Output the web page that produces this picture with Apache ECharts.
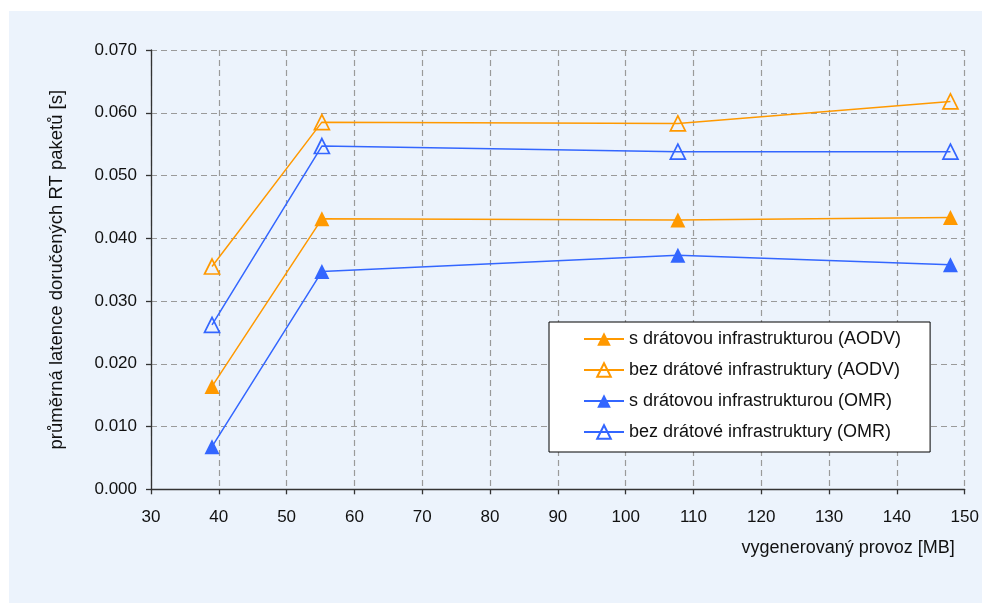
<!DOCTYPE html>
<html>
<head>
<meta charset="utf-8">
<script src="https://cdn.jsdelivr.net/npm/echarts@6/dist/echarts.min.js"></script>
<style>
  html, body { margin: 0; padding: 0; background: #ffffff; }
  #chart { width: 982px; height: 603px; }
</style>
</head>
<body>
<div id="chart"></div>
<script>
// Generated traffic [MB] for each measured scenario
const trafficMB = [39.0, 55.2, 107.7, 147.9];

// Mean latency of delivered RT packets [s]
const aodvWired   = [0.0164, 0.0431, 0.0429, 0.0433];
const aodvNoWired = [0.0355, 0.0585, 0.0583, 0.0618];
const omrWired    = [0.0068, 0.0347, 0.0373, 0.0358];
const omrNoWired  = [0.0262, 0.0547, 0.0538, 0.0538];

const seriesNames = [
  's drátovou infrastrukturou (AODV)',
  'bez drátové infrastruktury (AODV)',
  's drátovou infrastrukturou (OMR)',
  'bez drátové infrastruktury (OMR)'
];

const xTicks = { min: 30, max: 150, step: 10 };
const yTicks = { min: 0, max: 0.07, step: 0.01 };

const ORANGE = '#FF9900';
const BLUE = '#3366FF';
const PANEL = '#ECF3FC';
const FONT = '"Liberation Sans", Arial, sans-serif';

function pairs(ys) {
  return trafficMB.map((x, i) => [x, ys[i]]);
}

function lineSeries(name, ys, color, hollow) {
  return {
    name: name,
    type: 'line',
    data: pairs(ys),
    symbol: 'triangle',
    symbolSize: [15, 15],
    lineStyle: { color: color, width: 1.5 },
    itemStyle: hollow
      ? { color: 'rgba(0,0,0,0)', borderColor: color, borderWidth: 1.7 }
      : { color: color, borderColor: color, borderWidth: 0 },
    emphasis: { disabled: true },
    z: 3
  };
}

const chart = echarts.init(document.getElementById('chart'), null, { renderer: 'canvas' });

chart.setOption({
  animation: false,
  textStyle: { fontFamily: FONT },
  graphic: [{
    type: 'rect',
    shape: { x: 9, y: 11, width: 973, height: 592 },
    style: { fill: PANEL },
    z: -10,
    silent: true
  }],
  grid: { left: 151, right: 17.3, top: 50, bottom: 113.7, containLabel: false },
  legend: {
    orient: 'vertical',
    left: 549,
    top: 322,
    padding: [8, 29, 11, 34],
    itemWidth: 40,
    itemHeight: 17,
    itemGap: 13,
    backgroundColor: '#ffffff',
    borderColor: '#000000',
    borderWidth: 1,
    textStyle: { fontFamily: FONT, fontSize: 18, color: '#111', lineHeight: 18 },
    data: seriesNames
  },
  xAxis: {
    type: 'value',
    min: xTicks.min,
    max: xTicks.max,
    interval: xTicks.step,
    name: 'vygenerovaný provoz [MB]',
    nameLocation: 'end',
    nameGap: -10,
    nameTextStyle: {
      fontFamily: FONT, fontSize: 18, color: '#111',
      align: 'right', verticalAlign: 'top', padding: [50, 0, 0, 0]
    },
    axisLine: { show: true, lineStyle: { color: '#333', width: 1.3 } },
    axisTick: { show: true, length: 5, lineStyle: { color: '#333', width: 1.3 } },
    axisLabel: { fontFamily: FONT, fontSize: 17, color: '#111', margin: 20 },
    splitLine: { show: true, lineStyle: { color: '#9a9a9a', width: 1.2, type: [6, 4] } }
  },
  yAxis: {
    type: 'value',
    min: yTicks.min,
    max: yTicks.max,
    interval: yTicks.step,
    name: 'průměrná latence doručených RT paketů [s]',
    nameLocation: 'middle',
    nameGap: 85,
    nameRotate: 90,
    nameTextStyle: { fontFamily: FONT, fontSize: 18.5, color: '#111' },
    axisLine: { show: true, lineStyle: { color: '#333', width: 1.3 } },
    axisTick: { show: true, length: 5, lineStyle: { color: '#333', width: 1.3 } },
    axisLabel: {
      fontFamily: FONT, fontSize: 17, color: '#111', margin: 14,
      formatter: v => v.toFixed(3)
    },
    splitLine: { show: true, lineStyle: { color: '#9a9a9a', width: 1.2, type: [6, 4] } }
  },
  series: [
    lineSeries(seriesNames[0], aodvWired, ORANGE, false),
    lineSeries(seriesNames[1], aodvNoWired, ORANGE, true),
    lineSeries(seriesNames[2], omrWired, BLUE, false),
    lineSeries(seriesNames[3], omrNoWired, BLUE, true)
  ]
});
</script>
</body>
</html>
